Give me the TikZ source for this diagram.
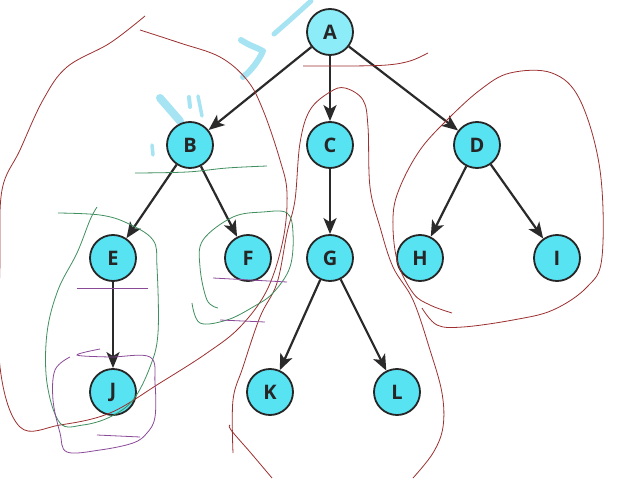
\documentclass[tikz,border=0pt]{standalone}
\usepackage{fontspec}
\setmainfont{Open Sans}
\usetikzlibrary{arrows.meta}
\definecolor{nodecyan}{HTML}{58E3F3}
\definecolor{nodecyanA}{HTML}{8CECF7}
\definecolor{edgegray}{HTML}{2A2A2A}
\definecolor{penred}{HTML}{9C2F2F}
\definecolor{pengreen}{HTML}{3F8F5F}
\definecolor{penpurple}{HTML}{8A4A98}
\definecolor{brushblue}{HTML}{A6E3F3}
\begin{document}
\begin{tikzpicture}[x=1pt,y=-1pt,
  treenode/.style={circle, draw=black!85, line width=1.8pt, fill=nodecyan,
    minimum size=46pt, inner sep=0pt, text=black!85,
    font=\fontsize{20}{24}\selectfont\bfseries},
  edge/.style={draw=edgegray, line width=2.2pt, -{Stealth[length=16pt,width=13pt,inset=4pt]}},
  redpen/.style={penred, line width=0.8pt},
  greenpen/.style={pengreen, line width=0.8pt},
  purplepen/.style={penpurple, line width=0.8pt},
  brush/.style={brushblue, line cap=round, line join=round}]
\useasboundingbox (0,0) rectangle (625,479);

% light blue brush marks
\draw[brush, line width=5pt] (311,1) -- (290,20) -- (274,34);
\draw[brush, line width=6pt] (241,40) .. controls (250,46) and (258,48) .. (263,51)
  .. controls (259,60) and (252,70) .. (243,77);
\draw[brush, line width=8pt] (160,98) -- (180,121);
\draw[brush, line width=4pt] (189,97) -- (190,107);
\draw[brush, line width=3.5pt] (198,96) -- (202,116);
\draw[brush, line width=3.5pt] (152,145) -- (153,155);

% nodes
\node[treenode, fill=nodecyanA] (A) at (330,32) {A};
\node[treenode] (B) at (190,145) {B};
\node[treenode] (C) at (330,145) {C};
\node[treenode] (D) at (477,145) {D};
\node[treenode] (E) at (113,258) {E};
\node[treenode] (F) at (248,258) {F};
\node[treenode] (G) at (330,258) {G};
\node[treenode] (H) at (420,258) {H};
\node[treenode] (I) at (557,258) {I};
\node[treenode] (J) at (113,392) {J};
\node[treenode] (K) at (270,392) {K};
\node[treenode] (L) at (397,392) {L};

% edges
\draw[edge] (A) -- (B);
\draw[edge] (A) -- (C);
\draw[edge] (A) -- (D);
\draw[edge] (B) -- (E);
\draw[edge] (B) -- (F);
\draw[edge] (C) -- (G);
\draw[edge] (D) -- (H);
\draw[edge] (D) -- (I);
\draw[edge] (E) -- (J);
\draw[edge] (G) -- (K);
\draw[edge] (G) -- (L);

% red pen: big left loop
\draw[redpen] plot[smooth, tension=0.6] coordinates {
  (145,16) (110,43) (67,67) (43,100) (20,150) (2,190) (0,260) (0,367)
  (20,427) (60,425) (110,413) (160,383) (207,353) (240,327) (267,290)
  (283,240) (287,193) (280,160) (263,110) (247,80) (220,57) (180,43) (140,30)};
% red line under A
\draw[redpen] plot[smooth, tension=0.6] coordinates {(303,66) (350,66) (387,65) (410,61) (428,53)};
% red loop around C, G, K, L
\draw[redpen] plot[smooth, tension=0.6] coordinates {
  (233,453) (233,400) (243,367) (260,317) (277,283) (287,233) (295,200)
  (300,143) (310,110) (330,92) (345,88) (363,100) (368,127) (370,187)
  (380,227) (393,267) (413,300) (430,350) (442,393) (443,427) (433,453) (413,478)};
\draw[redpen] plot[smooth, tension=0.6] coordinates {(230,425) (231,430) (250,452) (272,478)};
% red loop around D, H, I
\draw[redpen] plot[smooth, tension=0.6] coordinates {
  (452,313) (430,305) (413,293) (397,260) (393,217) (400,187) (420,150)
  (447,120) (480,90) (510,73) (552,73) (580,100) (600,170) (602,257)
  (587,287) (553,310) (513,320) (463,327) (437,325) (422,308)};

% green pen
\draw[greenpen] plot[smooth, tension=0.6] coordinates {(135,173) (187,172) (227,168) (267,166)};
\draw[greenpen] plot[smooth, tension=0.6] coordinates {
  (58,213) (100,215) (127,223) (153,240) (157,267) (158,333) (150,367)
  (133,400) (110,417) (83,425) (60,423) (47,383) (47,333) (58,290)
  (77,253) (90,220) (97,207)};
\draw[greenpen] plot[smooth, tension=0.6] coordinates {
  (218,308) (207,300) (200,267) (203,240) (233,217) (263,212) (287,213)
  (293,233) (290,267) (273,293) (253,307) (227,320) (200,323) (192,303)};

% purple pen
\draw[purplepen] (77,288) -- (148,288);
\draw[purplepen] (213,278) -- (287,282);
\draw[purplepen] (220,320) -- (265,322);
\draw[purplepen] plot[smooth, tension=0.6] coordinates {
  (100,349) (77,355) (110,357) (150,357) (155,383) (155,417) (147,433)
  (133,443) (100,450) (67,452) (60,433) (53,400) (55,370) (70,357)};
\draw[purplepen] (97,435) -- (140,437);
\end{tikzpicture}
\end{document}
